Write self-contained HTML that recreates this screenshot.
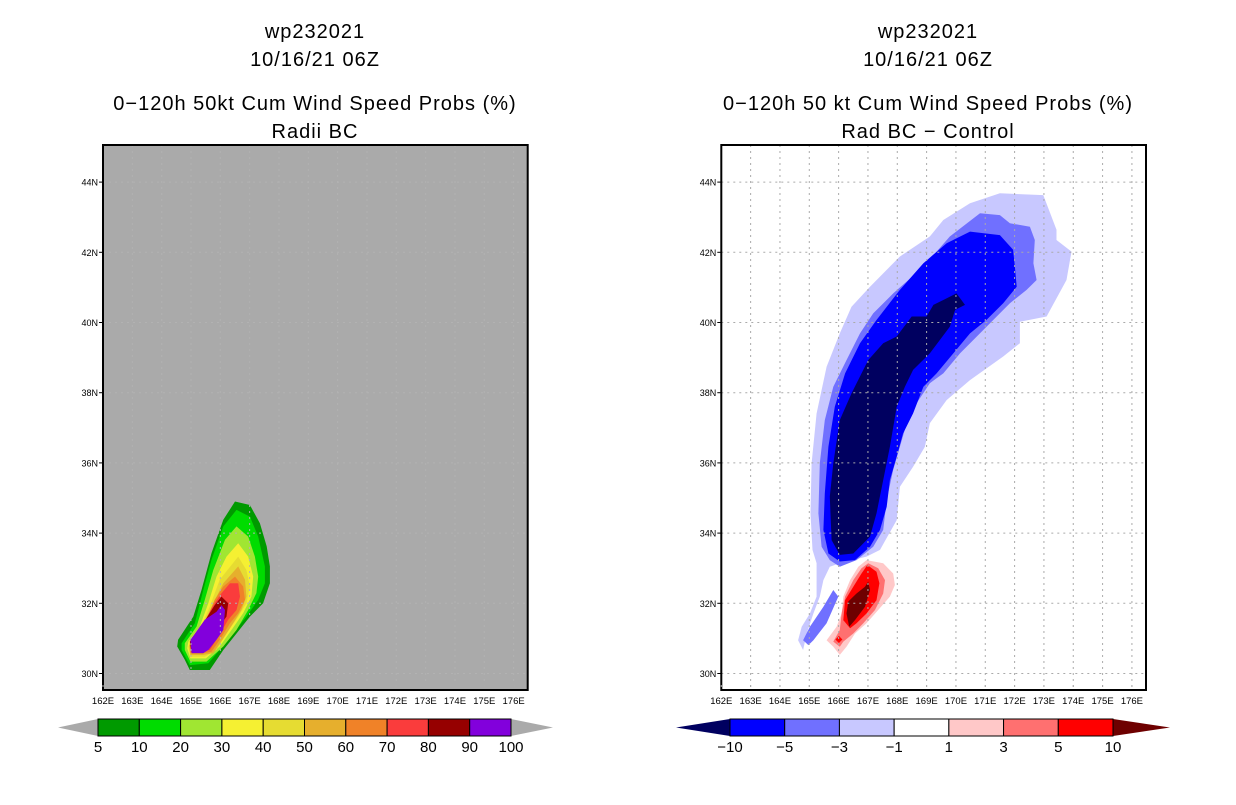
<!DOCTYPE html>
<html><head><meta charset="utf-8">
<style>
html,body{margin:0;padding:0;background:#fff;}
body{width:1236px;height:800px;overflow:hidden;font-family:"Liberation Sans",sans-serif;}
</style></head>
<body>
<svg id="fig" width="1236" height="800" xmlns="http://www.w3.org/2000/svg" font-family="Liberation Sans, sans-serif">
<g font-size="20" text-anchor="middle" fill="#000" letter-spacing="1">
<text x="315" y="38">wp232021</text>
<text x="315" y="66">10/16/21 06Z</text>
<text x="315" y="110">0−120h 50kt Cum Wind Speed Probs (%)</text>
<text x="315" y="138">Radii BC</text>
</g>
<g font-size="20" text-anchor="middle" fill="#000" letter-spacing="1">
<text x="928" y="38">wp232021</text>
<text x="928" y="66">10/16/21 06Z</text>
<text x="928" y="110">0−120h 50 kt Cum Wind Speed Probs (%)</text>
<text x="928" y="138">Rad BC − Control</text>
</g>
<g id="left"></g>
<g id="right"></g>
<g id="cbl"></g>
<g id="cbr"></g>
</svg>
<script>
// ---- data ----
const lonTicks=[162,163,164,165,166,167,168,169,170,171,172,173,174,175,176];
const latTicks=[30,32,34,36,38,40,42,44];
const leftLevels=[5,10,20,30,40,50,60,70,80,90,100];
const leftColors=["#009a00","#00dc00","#a0e632","#f5f032","#e6dc32","#e6af2d","#f08228","#fa3c3c","#960000","#8200dc"];
const rightLevels=["−10","−5","−3","−1","1","3","5","10"];
const rightColors=["#0000ff","#7070ff","#c8c8ff","#ffffff","#ffc8c8","#ff7070","#ff0000"];
const leftContours=[
{c:"#009a00",p:[[166.50,34.90],[167.01,34.80],[167.35,34.28],[167.58,33.62],[167.69,33.05],[167.69,32.57],[167.46,32.00],[167.01,31.62],[166.55,31.14],[166.10,30.67],[165.64,30.10],[164.96,30.10],[164.79,30.39],[164.53,30.77],[164.56,30.96],[165.08,31.62],[165.36,32.38],[165.70,33.43],[166.10,34.38]]},
{c:"#00dc00",p:[[166.55,34.66],[167.01,34.47],[167.29,33.90],[167.52,33.05],[167.52,32.57],[167.29,32.10],[166.89,31.62],[166.44,31.14],[165.98,30.67],[165.59,30.29],[164.96,30.24],[164.68,30.67],[164.68,30.86],[165.13,31.43],[165.42,32.38],[165.70,33.24],[166.10,34.19]]},
{c:"#a0e632",p:[[166.55,34.19],[166.95,33.90],[167.18,33.33],[167.29,32.76],[167.23,32.29],[166.95,31.81],[166.55,31.24],[166.10,30.77],[165.53,30.34],[164.98,30.34],[164.79,30.67],[164.79,30.86],[165.19,31.34],[165.47,32.10],[165.76,32.95],[166.16,33.81]]},
{c:"#f5f032",p:[[166.61,33.71],[166.95,33.33],[167.12,32.76],[167.06,32.19],[166.78,31.72],[166.38,31.24],[165.98,30.77],[165.51,30.43],[164.98,30.43],[164.87,30.72],[164.91,30.91],[165.30,31.34],[165.59,32.00],[165.87,32.76],[166.21,33.33]]},
{c:"#e6dc32",p:[[166.61,33.33],[166.89,32.95],[167.01,32.48],[166.89,32.00],[166.61,31.62],[166.21,31.14],[165.87,30.67],[165.47,30.48],[164.98,30.48],[164.91,30.77],[165.30,31.24],[165.64,31.91],[165.98,32.67]]},
{c:"#e6af2d",p:[[166.61,33.05],[166.84,32.67],[166.89,32.19],[166.72,31.81],[166.44,31.43],[166.10,31.00],[165.76,30.58],[165.42,30.53],[164.98,30.53],[164.94,30.81],[165.36,31.24],[165.76,32.00],[166.10,32.57]]},
{c:"#f08228",p:[[166.50,32.76],[166.78,32.48],[166.84,32.10],[166.61,31.72],[166.33,31.43],[165.98,30.96],[165.70,30.62],[165.42,30.58],[164.98,30.58],[164.96,30.86],[165.42,31.34],[165.81,32.10],[166.10,32.48]]},
{c:"#fa3c3c",p:[[166.33,32.57],[166.61,32.57],[166.67,32.19],[166.55,31.81],[166.27,31.53],[165.93,31.05],[165.64,30.67],[165.02,30.62],[164.98,30.91],[165.42,31.43],[165.81,32.00],[166.04,32.29]]},
{c:"#960000",p:[[166.04,32.19],[166.27,32.00],[166.21,31.62],[165.87,31.24],[165.64,30.77],[165.42,30.58],[165.02,30.58],[164.96,30.91],[165.42,31.43],[165.81,31.95]]},
{c:"#8200dc",p:[[166.04,31.95],[166.16,31.81],[166.10,31.24],[165.87,30.96],[165.59,30.67],[165.42,30.58],[165.02,30.58],[164.98,30.96],[165.47,31.53],[165.87,31.76]]}
];
const rightContours=[
{c:"#c8c8ff",p:[[171.50,43.68],[172.98,43.63],[173.43,42.64],[173.43,42.35],[173.94,42.02],[173.77,41.21],[173.09,40.17],[172.18,40.02],[172.18,39.41],[171.61,39.03],[170.48,38.36],[169.68,37.79],[169.11,37.13],[168.94,36.46],[168.54,35.89],[168.09,35.32],[167.98,34.37],[167.41,33.52],[166.95,33.33],[166.04,33.14],[165.70,33.04],[165.48,32.66],[165.36,32.19],[165.14,31.71],[164.91,31.14],[164.79,30.67],[164.62,30.95],[164.74,31.33],[165.02,31.71],[165.25,32.19],[165.25,33.14],[165.11,33.52],[165.04,34.56],[165.08,35.99],[165.25,37.41],[165.59,38.74],[166.04,39.69],[166.44,40.45],[167.07,41.02],[168.09,41.88],[169.11,42.45],[169.57,42.92],[170.48,43.40]]},
{c:"#7070ff",p:[[170.82,43.11],[171.50,43.06],[171.84,42.83],[172.52,42.73],[172.69,42.35],[172.64,41.69],[172.75,41.21],[172.41,40.93],[171.84,40.55],[171.16,39.98],[170.59,39.50],[170.14,39.12],[169.57,38.55],[169.11,38.27],[168.66,37.70],[168.32,37.13],[168.09,36.46],[167.86,35.80],[167.64,34.94],[167.52,34.09],[167.18,33.61],[166.61,33.23],[166.04,33.04],[165.70,33.23],[165.42,33.61],[165.31,34.56],[165.36,35.99],[165.53,37.22],[165.82,38.17],[166.27,38.93],[166.73,39.69],[167.18,40.26],[167.86,40.83],[168.89,41.59],[169.79,42.45]]},
{c:"#7070ff",p:[[165.82,32.38],[165.99,32.19],[165.59,31.43],[165.14,30.95],[164.97,30.81],[164.79,30.95],[165.02,31.33],[165.48,31.90]]},
{c:"#0000ff",p:[[170.48,42.59],[171.50,42.49],[171.95,42.07],[172.01,41.59],[172.07,41.02],[171.61,40.55],[171.04,40.07],[170.48,39.69],[169.91,39.12],[169.34,38.55],[168.89,38.17],[168.54,37.41],[168.20,36.84],[167.98,36.18],[167.75,35.51],[167.64,34.75],[167.41,34.09],[167.07,33.61],[166.56,33.23],[166.04,33.19],[165.65,33.42],[165.48,34.09],[165.53,35.13],[165.65,36.46],[165.87,37.60],[166.22,38.55],[166.73,39.41],[167.29,40.07],[168.09,40.93],[168.89,41.69],[169.68,42.26]]},
{c:"#000060",p:[[170.02,40.83],[170.31,40.50],[169.97,40.36],[169.79,39.88],[169.11,39.12],[168.54,38.65],[168.26,38.17],[167.98,37.60],[167.75,36.46],[167.52,35.51],[167.29,34.56],[167.07,33.90],[166.50,33.42],[166.04,33.38],[165.76,33.80],[165.70,35.04],[165.82,35.99],[166.04,37.22],[166.44,37.98],[167.01,38.93],[167.52,39.41],[167.98,39.60],[168.49,40.17],[169.00,40.17],[169.23,40.50],[169.57,40.64]]},
{c:"#ffc8c8",s:1,p:[[166.95,33.23],[167.52,33.14],[167.86,32.85],[167.92,32.52],[167.75,32.19],[167.35,31.81],[166.95,31.43],[166.56,31.14],[166.27,30.76],[166.04,30.53],[165.82,30.76],[165.59,30.95],[165.93,31.33],[166.10,31.71],[166.16,32.19],[166.39,32.66],[166.67,33.04]]},
{c:"#ff7070",p:[[167.01,33.14],[167.35,33.00],[167.58,32.66],[167.52,32.28],[167.24,31.81],[166.84,31.43],[166.50,31.14],[166.16,30.91],[166.04,30.76],[165.82,30.91],[166.04,31.24],[166.10,31.71],[166.22,32.19],[166.50,32.66],[166.78,33.00]]},
{c:"#ff0000",p:[[166.98,33.09],[167.29,32.90],[167.39,32.57],[167.29,32.09],[166.95,31.71],[166.61,31.43],[166.39,31.29],[166.16,31.52],[166.22,32.09],[166.50,32.47],[166.78,32.85]]},
{c:"#ff0000",p:[[165.89,30.97],[166.01,31.07],[166.13,30.97],[166.01,30.87]]},
{c:"#6e0000",p:[[167.01,32.62],[167.07,32.38],[166.90,31.90],[166.56,31.52],[166.36,31.33],[166.27,31.71],[166.33,32.05],[166.61,32.28],[166.90,32.47]]}
];
// ---- drawing ----
const NS="http://www.w3.org/2000/svg";
function mk(tag,attrs,parent){const e=document.createElementNS(NS,tag);for(const k in attrs)e.setAttribute(k,attrs[k]);parent.appendChild(e);return e;}
const PX=29.33, PY=35.1, Y30=673.5, BOXT=145, BOXB=690;
function panel(g,x0,bg,contours,gridCol){
  const xs=lon=>x0+(lon-162)*PX, ys=lat=>Y30-(lat-30)*PY;
  const boxR=x0+425-0.3;
  const bgr=mk('rect',{x:x0,y:BOXT,width:boxR-x0,height:BOXB-BOXT,fill:bg},g);
  
  
  const cg=mk('g',{},g);
  
  
  contours.forEach((ct,i)=>{
    const pts=ct.p.map(q=>xs(q[0]).toFixed(1)+','+ys(q[1]).toFixed(1)).join(' ');
    const pg=mk('polygon',{points:pts,fill:ct.c},cg);
    if(ct.s){pg.setAttribute('stroke','#fff');pg.setAttribute('stroke-width','5');pg.setAttribute('paint-order','stroke');}
    
    
  });
  const gg=mk('g',{stroke:gridCol,'stroke-width':1,'stroke-dasharray':'2,4'},g);
  
  
  lonTicks.forEach(l=>{if(l>162)mk('line',{x1:xs(l),x2:xs(l),y1:BOXT,y2:BOXB},gg);});
  latTicks.forEach(l=>mk('line',{x1:x0,x2:boxR,y1:ys(l),y2:ys(l)},gg));
  const bx=mk('rect',{x:x0,y:BOXT,width:boxR-x0,height:BOXB-BOXT,fill:'none',stroke:'#000','stroke-width':2},g);
  
  
  const yl=mk('g',{'font-size':9,'text-anchor':'end',fill:'#000'},g);
  
  
  latTicks.forEach(l=>{const t=mk('text',{x:x0-5,y:ys(l)+3.5},yl);t.textContent=l+'N';mk('line',{x1:x0-4,x2:x0,y1:ys(l),y2:ys(l),stroke:'#000'},yl);});
  const xl=mk('g',{'font-size':9.5,'text-anchor':'middle',fill:'#000'},g);
  
  
  lonTicks.forEach(l=>{const t=mk('text',{x:xs(l),y:704},xl);t.textContent=l+'E';mk('line',{x1:xs(l),x2:xs(l),y1:BOXB-5,y2:BOXB-3,stroke:'#aaa'},xl);});
}
panel(document.getElementById('left'),103,'#aaaaaa',leftContours,'#b2b2b2');
panel(document.getElementById('right'),721.3,'#ffffff',rightContours,'#aaaaaa');

function colorbar(g,x0,x1,colors,labels,lc,rc,tl,tr){
  const y0=719,h=17,n=colors.length,w=(x1-x0)/n;
  const a=mk('polygon',{points:`${tl},${y0+h/2} ${x0},${y0} ${x0},${y0+h}`,fill:lc},g);
  
  
  const b=mk('polygon',{points:`${tr},${y0+h/2} ${x1},${y0} ${x1},${y0+h}`,fill:rc},g);
  
  
  colors.forEach((c,i)=>{const r=mk('rect',{x:x0+i*w,y:y0,width:w,height:h,fill:c,stroke:'#000','stroke-width':1},g);
    
    });
  labels.forEach((l,i)=>{const t=mk('text',{x:x0+i*w,y:752,'font-size':15,'text-anchor':'middle',fill:'#000'},g);t.textContent=l;
    
    });
}
colorbar(document.getElementById('cbl'),98,511,leftColors,leftLevels,'#aaaaaa','#aaaaaa',58,553);
colorbar(document.getElementById('cbr'),730,1113,rightColors,rightLevels,'#000060','#6e0000',676,1170);
</script>
</body></html>
